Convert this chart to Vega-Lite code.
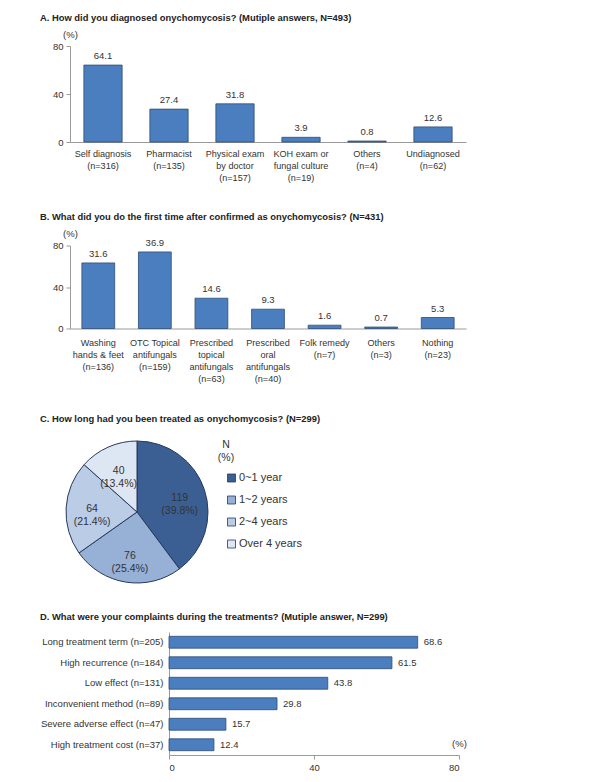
{
  "$schema": "https://vega.github.io/schema/vega-lite/v6.json",
  "padding": {"left": 40, "top": 12, "right": 5, "bottom": 5},
  "background": "white",
  "columns": 1,
  "spacing": 26,
  "align": "none",
  "resolve": {"scale": {"color": "independent"}, "legend": {"color": "independent"}},
  "config": {
    "font": "Liberation Sans",
    "view": {"stroke": null},
    "axis": {"grid": false, "domainColor": "#9a9a9a", "tickColor": "#9a9a9a", "labelColor": "#333333", "labelFont": "Liberation Sans", "labelFontSize": 9.1, "titleFont": "Liberation Sans", "titleColor": "#333333", "titleFontWeight": "normal", "titleFontSize": 9.5},
    "title": {"font": "Liberation Sans", "fontSize": 9.4, "fontWeight": "bold", "color": "#222222", "anchor": "start", "frame": "group"},
    "text": {"font": "Liberation Sans"}
  },
  "concat": [
    {
      "columns": 1,
      "spacing": 28.5,
      "align": "none",
      "resolve": {"scale": {"color": "independent"}, "legend": {"color": "independent"}},
      "concat": [
        {
          "title": {"text": "A. How did you diagnosed onychomycosis? (Mutiple answers, N=493)", "dx": -30, "offset": 6},
          "width": 396,
          "height": 96,
          "data": {"values": [
            {"cat": "Self diagnosis|(n=316)", "pct": 64.1},
            {"cat": "Pharmacist|(n=135)", "pct": 27.4},
            {"cat": "Physical exam|by doctor|(n=157)", "pct": 31.8},
            {"cat": "KOH exam or|fungal culture|(n=19)", "pct": 3.9},
            {"cat": "Others|(n=4)", "pct": 0.8},
            {"cat": "Undiagnosed|(n=62)", "pct": 12.6}
          ]},
          "encoding": {
            "x": {"field": "cat", "type": "nominal", "sort": null, "scale": {"paddingInner": 0.42, "paddingOuter": 0.21},
                  "axis": {"title": null, "labelAngle": 0, "ticks": false, "labelPadding": 7, "labelExpr": "split(datum.label, '|')", "labelLineHeight": 12, "labelBaseline": "top"}},
            "y": {"field": "pct", "type": "quantitative", "scale": {"domain": [0, 80]},
                  "axis": {"values": [0, 40, 80], "title": "(%)", "titleAngle": 0, "titleX": 0, "titleY": -7, "titleAlign": "center", "titleBaseline": "bottom", "tickSize": 4, "labelPadding": 3, "labelFontSize": 9.5}}
          },
          "layer": [
            {"mark": {"type": "bar", "color": "#4a7ebf", "stroke": "#2f4d75", "strokeWidth": 0.8}},
            {"mark": {"type": "text", "baseline": "bottom", "dy": -4, "fontSize": 9.5, "color": "#333333"},
             "encoding": {"text": {"field": "pct", "type": "quantitative", "format": ".1f"}}}
          ]
        },
        {
          "title": {"text": "B. What did you do the first time after confirmed as onychomycosis? (N=431)", "dx": -30, "offset": 6},
          "width": 396,
          "height": 83,
          "data": {"values": [
            {"cat": "Washing|hands & feet|(n=136)", "pct": 31.6, "bar": 63.2},
            {"cat": "OTC Topical|antifungals|(n=159)", "pct": 36.9, "bar": 73.8},
            {"cat": "Prescribed|topical|antifungals|(n=63)", "pct": 14.6, "bar": 29.2},
            {"cat": "Prescribed|oral|antifungals|(n=40)", "pct": 9.3, "bar": 18.6},
            {"cat": "Folk remedy|(n=7)", "pct": 1.6, "bar": 3.2},
            {"cat": "Others|(n=3)", "pct": 0.7, "bar": 1.4},
            {"cat": "Nothing|(n=23)", "pct": 5.3, "bar": 10.6}
          ]},
          "encoding": {
            "x": {"field": "cat", "type": "nominal", "sort": null, "scale": {"paddingInner": 0.42, "paddingOuter": 0.21},
                  "axis": {"title": null, "labelAngle": 0, "ticks": false, "labelPadding": 10, "labelExpr": "split(datum.label, '|')", "labelLineHeight": 12, "labelBaseline": "top"}},
            "y": {"field": "bar", "type": "quantitative", "scale": {"domain": [0, 80]},
                  "axis": {"values": [0, 40, 80], "title": "(%)", "titleAngle": 0, "titleX": 0, "titleY": -7, "titleAlign": "center", "titleBaseline": "bottom", "tickSize": 4, "labelPadding": 3, "labelFontSize": 9.5}}
          },
          "layer": [
            {"mark": {"type": "bar", "color": "#4a7ebf", "stroke": "#2f4d75", "strokeWidth": 0.8}},
            {"mark": {"type": "text", "baseline": "bottom", "dy": -4, "fontSize": 9.5, "color": "#333333"},
             "encoding": {"text": {"field": "pct", "type": "quantitative", "format": ".1f"}}}
          ]
        },
        {
          "title": {"text": "C. How long had you been treated as onychomycosis? (N=299)", "dx": -30, "offset": 15},
          "width": 134,
          "height": 142,
          "data": {"values": [
            {"cat": "0~1 year", "n": 119, "label": "119\n(39.8%)"},
            {"cat": "1~2 years", "n": 76, "label": "76\n(25.4%)"},
            {"cat": "2~4 years", "n": 64, "label": "64\n(21.4%)"},
            {"cat": "Over 4 years", "n": 40, "label": "40\n(13.4%)"}
          ]},
          "encoding": {
            "theta": {"field": "n", "type": "quantitative", "stack": true},
            "order": {"field": "cat", "type": "ordinal", "sort": "ascending"}
          },
          "layer": [
            {"mark": {"type": "arc", "outerRadius": 71, "stroke": "#27395a", "strokeWidth": 1},
             "encoding": {
               "color": {"field": "cat", "type": "nominal",
                  "scale": {"domain": ["0~1 year", "1~2 years", "2~4 years", "Over 4 years"], "range": ["#3b5f92", "#97b0d6", "#bacce6", "#dde6f3"]},
                  "legend": {"title": ["N", "(%)"], "orient": "none", "legendX": 148, "legendY": -1, "titleFontSize": 10.5, "titleFontWeight": "normal", "titleColor": "#333333", "titleAlign": "center", "titleAnchor": "start", "titlePadding": 9, "titleLineHeight": 13,
                             "symbolType": "square", "symbolSize": 64, "symbolStrokeColor": "#27395a", "symbolStrokeWidth": 0.8, "labelFontSize": 11, "labelColor": "#333333", "rowPadding": 9, "labelOffset": 2}}
             }},
            {"mark": {"type": "text", "radius": 45, "fontSize": 10.5, "color": "#333333", "lineBreak": "\n", "lineHeight": 13},
             "encoding": {"text": {"field": "label", "type": "nominal"}}}
          ]
        }
      ]
    },
    {
      "title": {"text": "D. What were your complaints during the treatments? (Mutiple answer, N=299)", "dx": -30, "offset": 10},
      "width": 389,
      "height": 123,
      "data": {"values": [
        {"cat": "Long treatment term (n=205)", "pct": 68.6},
        {"cat": "High recurrence (n=184)", "pct": 61.5},
        {"cat": "Low effect (n=131)", "pct": 43.8},
        {"cat": "Inconvenient method (n=89)", "pct": 29.8},
        {"cat": "Severe adverse effect (n=47)", "pct": 15.7},
        {"cat": "High treatment cost (n=37)", "pct": 12.4}
      ]},
      "encoding": {
        "y": {"field": "cat", "type": "nominal", "sort": null, "scale": {"paddingInner": 0.42, "paddingOuter": 0.21},
              "axis": {"title": null, "ticks": false, "labelPadding": 6, "labelFontSize": 9.5, "offset": -99}},
        "x": {"field": "pct", "type": "quantitative", "scale": {"domain": [0, 80], "range": [99, 389]},
              "axis": {"values": [0, 40, 80], "title": "(%)", "titleX": 389, "titleY": -12, "titleAlign": "center", "titleBaseline": "middle", "tickSize": 4, "labelPadding": 3, "labelFontSize": 9.5}}
      },
      "layer": [
        {"mark": {"type": "bar", "color": "#4a7ebf", "stroke": "#2f4d75", "strokeWidth": 0.8}},
        {"mark": {"type": "text", "align": "left", "dx": 6, "fontSize": 9.5, "color": "#333333"},
         "encoding": {"text": {"field": "pct", "type": "quantitative", "format": ".1f"}}}
      ]
    }
  ]
}
